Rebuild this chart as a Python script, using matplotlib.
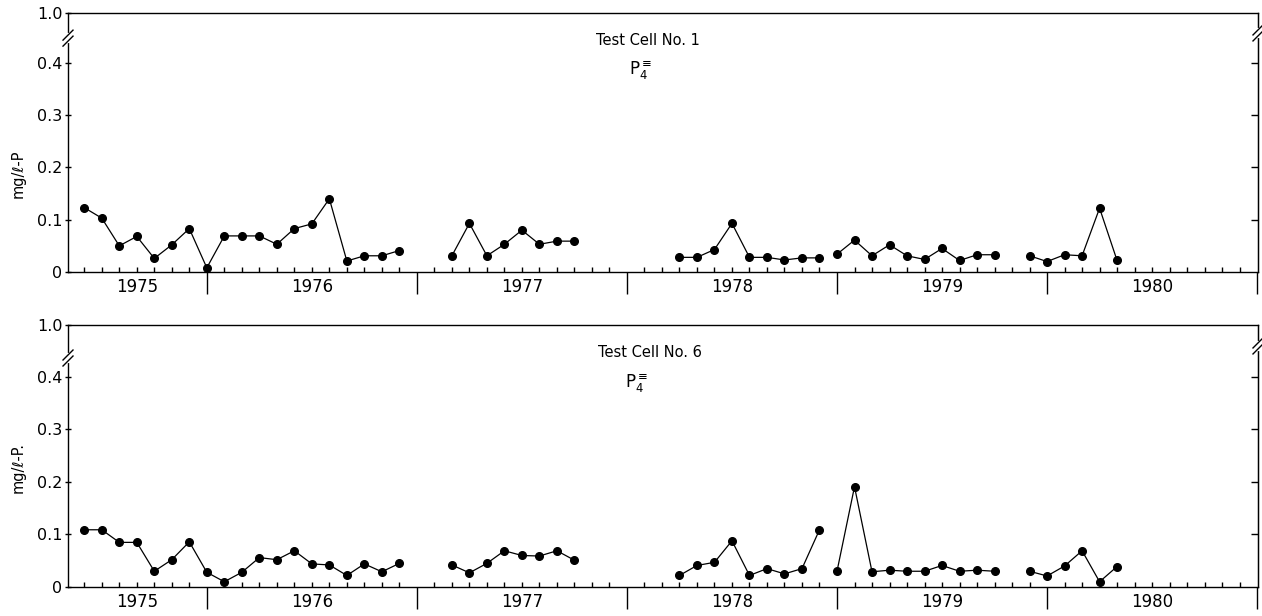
import matplotlib.pyplot as plt
import numpy as np

# x is counted in months from Jan 1975; first sample is June 1975
first_month = 5
run_start = [0, 21, 34, 43, 54]   # sample index where each unbroken run begins

cell1 = [
    [0.123, 0.103, 0.050, 0.068, 0.026, 0.052, 0.083, 0.008, 0.069, 0.069,
     0.069, 0.053, 0.083, 0.092, 0.140, 0.021, 0.031, 0.031, 0.041],
    [0.031, 0.093, 0.031, 0.053, 0.080, 0.053, 0.059, 0.059],
    [0.028, 0.028, 0.043, 0.093, 0.028, 0.028, 0.023, 0.027, 0.027],
    [0.034, 0.061, 0.031, 0.052, 0.031, 0.024, 0.045, 0.022, 0.033, 0.033],
    [0.031, 0.020, 0.033, 0.031, 0.122, 0.022],
]
cell6 = [
    [0.109, 0.109, 0.085, 0.085, 0.030, 0.052, 0.086, 0.028, 0.010, 0.028,
     0.056, 0.052, 0.069, 0.044, 0.042, 0.022, 0.044, 0.029, 0.045],
    [0.042, 0.027, 0.045, 0.069, 0.060, 0.059, 0.069, 0.051],
    [0.022, 0.041, 0.047, 0.088, 0.022, 0.035, 0.025, 0.035, 0.109],
    [0.030, 0.191, 0.029, 0.032, 0.030, 0.030, 0.041, 0.030, 0.032, 0.030],
    [0.030, 0.021, 0.040, 0.069, 0.010, 0.039],
]

years = [1975, 1976, 1977, 1978, 1979, 1980]
yticks = [0, 0.1, 0.2, 0.3, 0.4]
ytick_labels = ['0', '0.1', '0.2', '0.3', '0.4']
x0, x1 = 4.07, 72.05

fig = plt.figure(figsize=(12.62, 6.16), dpi=100)


def break_mark(ax, xa, ya):
    pos = ax.get_position()
    px = 1 / (pos.width * fig.get_figwidth() * fig.dpi)
    py = 1 / (pos.height * fig.get_figheight() * fig.dpi)
    ax.plot([xa, xa], [ya - 3*py, ya + 3*py], color='white', lw=3,
            transform=ax.transAxes, clip_on=False, zorder=5)
    for off in (-3, 3):
        ax.plot([xa - 5*px, xa + 5*px], [ya + (off - 5)*py, ya + (off + 5)*py],
                color='black', lw=1, transform=ax.transAxes, clip_on=False, zorder=6)


def panel(rect, runs, title, ylabel, ytop, lbreak, rbreak, ylab_y, tx, fx):
    ax = fig.add_axes(rect)
    for start, vals in zip(run_start, runs):
        x = first_month + start + np.arange(len(vals))
        ax.plot(x, vals, color='black', lw=0.9, marker='o', ms=5.5)
    ax.set_xlim(x0, x1)
    ax.set_ylim(0, ytop)
    ax.set_yticks(yticks + [ytop])
    ax.set_yticklabels(ytick_labels + ['1.0'], fontsize=11.5)
    ax.tick_params(axis='y', direction='inout', length=4, width=1, pad=2)

    # year dividers as long major ticks, months as short inward ticks
    ax.set_xticks(np.arange(12, 73, 12))
    ax.set_xticks(np.arange(5, 72), minor=True)
    ax.tick_params(axis='x', which='major', direction='out', length=16, width=1,
                   labelbottom=False)
    ax.tick_params(axis='x', which='minor', direction='in', length=3.6, width=1)

    sec = ax.secondary_yaxis('right')
    sec.set_yticks(yticks[1:])
    sec.set_yticklabels([])
    sec.tick_params(direction='in', length=5, width=1)

    for sp in ax.spines.values():
        sp.set_linewidth(1)

    tr = ax.get_xaxis_transform()
    for yr in years:
        lo = max(12 * (yr - 1975), x0)
        hi = 12 * (yr - 1974)
        ax.text((lo + hi) / 2, -0.058, str(yr), transform=tr, ha='center', va='center',
                fontsize=12)

    ax.text(tx, 0.895, title, transform=ax.transAxes, ha='center', va='center',
            fontsize=10.5)
    ax.text(fx, 0.78, r'$\mathsf{P}^{\equiv}_{4}$', transform=ax.transAxes,
            ha='center', va='center', fontsize=12)
    ax.text(-0.042, ylab_y, ylabel, transform=ax.transAxes, rotation=90,
            ha='center', va='center', fontsize=10.5)

    break_mark(ax, 0, lbreak)
    break_mark(ax, 1, rbreak)
    return ax


panel([68/1262, 1 - 272/616, 1190/1262, 259/616], cell1, 'Test Cell No. 1',
      'mg/ℓ-P', 0.4952, 0.903, 0.923, 0.38, 0.487, 0.481)
panel([68/1262, 1 - 587/616, 1190/1262, 262/616], cell6, 'Test Cell No. 6',
      'mg/ℓ-P.', 0.499, 0.874, 0.92, 0.456, 0.489, 0.478)

plt.savefig('out.png', dpi=100)
